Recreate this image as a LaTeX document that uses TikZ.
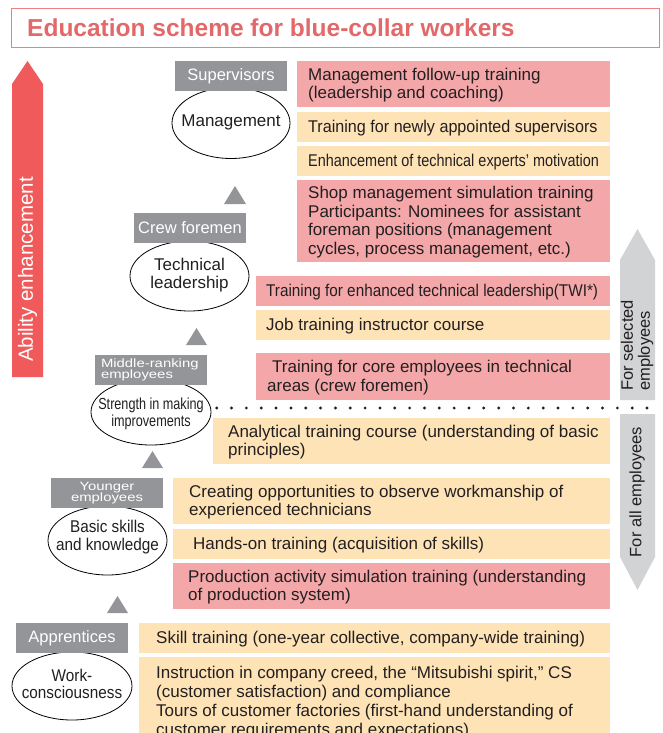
\documentclass[tikz,border=0pt]{standalone}
\usepackage{fontspec}
\setmainfont{Liberation Sans}
\newfontfamily\condA[FakeStretch=0.90]{Liberation Sans}
\newfontfamily\condB[FakeStretch=0.85]{Liberation Sans}
\newfontfamily\condC[FakeStretch=0.79]{Liberation Sans}
\newfontfamily\condD[FakeStretch=0.95]{Liberation Sans}
\newfontfamily\wideF[FakeStretch=1.24]{Liberation Sans}
\usetikzlibrary{shapes.geometric}
\definecolor{pinkfill}{HTML}{F4A7A9}
\definecolor{peachfill}{HTML}{FEE3B6}
\definecolor{labelgray}{HTML}{939598}
\definecolor{arrowgray}{HTML}{D1D3D4}
\definecolor{arrowred}{HTML}{F05A5B}
\definecolor{titlered}{HTML}{E2686A}
\definecolor{titleborder}{HTML}{EC7F81}
\definecolor{darktext}{HTML}{231F20}
\begin{document}
\begin{tikzpicture}[x=1pt,y=-1pt,
  trbox/.style={anchor=north west, inner sep=0pt, draw=none},
  pinkbox/.style={trbox, fill=pinkfill},
  peachbox/.style={trbox, fill=peachfill},
  txt/.style={anchor=west, inner sep=0pt, align=left, text=darktext, yshift=-1pt, font=\fontsize{17}{18.5}\selectfont},
  graylab/.style={fill=labelgray, text=white, minimum width=112pt, minimum height=30pt, inner sep=0pt, font=\fontsize{16.5}{18}\selectfont},
  smalllab/.style={font=\wideF\fontsize{12}{11.7}\selectfont},
  ell/.style={ellipse, draw=black, line width=0.8pt, fill=white, inner sep=0pt},
  elltxt/.style={inner sep=0pt, align=center, text=darktext, font=\fontsize{17}{18.5}\selectfont},
  tri/.style={fill=labelgray},
  sidetxt/.style={rotate=90, inner sep=0pt, align=left, text=darktext, font=\fontsize{16.5}{17}\selectfont},
  dotline/.style={draw=darktext, line width=3.2pt, line cap=round, dash pattern=on 0pt off 14.84pt}
]
\useasboundingbox (0,0) rectangle (662,733);
\clip (0,0) rectangle (662,733);

% title
\node[trbox, draw=titleborder, line width=1.1pt, minimum width=648pt, minimum height=39pt] (titlebox) at (11,8) {};
\node[anchor=west, inner sep=0pt, text=titlered, font=\bfseries\fontsize{24.5}{26}\selectfont] (title) at ([xshift=16pt]titlebox.west) {Education scheme for blue-collar workers};

% big arrows
\fill[arrowred] (12,377) -- (12,84) -- (27.5,61) -- (43,84) -- (43,377) -- cycle;
\node[rotate=90, inner sep=0pt, text=white, font=\fontsize{20.5}{22}\selectfont] (ability) at (27.5,269.5) {Ability enhancement};

\fill[arrowgray] (620,400) -- (620,260) -- (637.5,229) -- (655,260) -- (655,400) -- cycle;
\fill[arrowgray] (620,414) -- (655,414) -- (655,557) -- (637.5,590) -- (620,557) -- cycle;
\node[sidetxt, anchor=west] (selected) at (637,391) {For selected\\employees};
\node[sidetxt] (allemp) at (637,492) {For all employees};

% training boxes
\node[pinkbox, minimum width=313pt, minimum height=46pt] (b1) at (297,61) {};
\node[txt] (t1) at ([xshift=11pt]b1.west) {Management follow-up training\\(leadership and coaching)};
\node[peachbox, minimum width=313pt, minimum height=30pt] (b2) at (297,112) {};
\node[txt, font=\condD\fontsize{17}{18.5}\selectfont] (t2) at ([xshift=11pt]b2.west) {Training for newly appointed supervisors};
\node[peachbox, minimum width=313pt, minimum height=30pt] (b3) at (297,146) {};
\node[txt, font=\condB\fontsize{17}{18.5}\selectfont] (t3) at ([xshift=11pt]b3.west) {Enhancement of technical experts’ motivation};
\node[pinkbox, minimum width=313pt, minimum height=82pt] (b4) at (297,180) {};
\node[txt] (t4) at ([xshift=11pt]b4.west) {Shop management simulation training\\Participants: Nominees for assistant\\foreman positions (management\\cycles, process management, etc.)};

\node[pinkbox, minimum width=354pt, minimum height=30pt] (b5) at (256,276) {};
\node[txt, font=\condA\fontsize{17}{18.5}\selectfont] (t5) at ([xshift=10pt]b5.west) {Training for enhanced technical leadership(TWI*)};
\node[peachbox, minimum width=354pt, minimum height=30pt] (b6) at (256,310) {};
\node[txt] (t6) at ([xshift=10pt]b6.west) {Job training instructor course};
\node[pinkbox, minimum width=354pt, minimum height=47pt] (b7) at (256,353) {};
\node[txt] (t7) at ([xshift=11pt]b7.west) {\hspace*{5pt}Training for core employees in technical\\areas (crew foremen)};

\node[peachbox, minimum width=397pt, minimum height=46pt] (b8) at (213,418) {};
\node[txt] (t8) at ([xshift=15pt]b8.west) {Analytical training course (understanding of basic\\principles)};
\node[peachbox, minimum width=437pt, minimum height=46pt] (b9) at (173,478) {};
\node[txt] (t9) at ([xshift=16pt]b9.west) {Creating opportunities to observe workmanship of\\experienced technicians};
\node[peachbox, minimum width=437pt, minimum height=30pt] (b10) at (173,529) {};
\node[txt] (t10) at ([xshift=20pt]b10.west) {Hands-on training (acquisition of skills)};
\node[pinkbox, minimum width=437pt, minimum height=46pt] (b11) at (173,563) {};
\node[txt] (t11) at ([xshift=15pt]b11.west) {Production activity simulation training (understanding\\of production system)};
\node[peachbox, minimum width=471pt, minimum height=30pt] (b12) at (139,623) {};
\node[txt] (t12) at ([xshift=17pt]b12.west) {Skill training (one-year collective, company-wide training)};
\node[peachbox, minimum width=471pt, minimum height=90pt] (b13) at (139,657) {};
\node[txt, anchor=north west, font=\fontsize{17}{19}\selectfont] (t13) at ([xshift=17pt,yshift=-8pt]b13.north west) {Instruction in company creed, the “Mitsubishi spirit,” CS\\(customer satisfaction) and compliance\\Tours of customer factories (first-hand understanding of\\customer requirements and expectations)};

% dotted separator
\coordinate (dotstart) at (216.7,408);
\coordinate (dotend) at (648,408);
\draw[dotline] (dotstart) -- (dotend);

% ellipses
\node[ell, minimum width=118pt, minimum height=71pt] (mgmt) at (231,123) {};
\node[elltxt] (mgmtT) at (231,122) {Management};
\node[ell, minimum width=119pt, minimum height=70pt] (tech) at (189.5,276) {};
\node[elltxt] (techT) at (189.5,275) {Technical\\leadership};
\node[ell, minimum width=120pt, minimum height=66pt] (strength) at (151,412) {};
\node[elltxt, font=\condC\fontsize{16}{17}\selectfont] (strengthT) at (151,414) {Strength in making\\improvements};
\node[ell, minimum width=119pt, minimum height=69pt] (basic) at (107.5,540.5) {};
\node[elltxt, font=\condA\fontsize{17}{17.7}\selectfont] (basicT) at (107.5,537) {Basic skills\\and knowledge};
\node[ell, minimum width=120pt, minimum height=68pt] (work) at (72,686) {};
\node[elltxt, font=\condA\fontsize{17}{16.7}\selectfont] (workT) at (72,684) {Work-\\consciousness};

% gray labels
\node[graylab] (sup) at (231,76) {Supervisors};
\node[graylab] (crew) at (190,228) {Crew foremen};
\node[graylab, smalllab, align=left, text width=100pt, inner xsep=6pt] (middle) at (151,370) {Middle-ranking\\employees};
\node[graylab, smalllab, align=center] (younger) at (107,493) {Younger\\employees};
\node[graylab] (appr) at (72,638) {Apprentices};

% up triangles
\fill[tri] (224,204) -- (235,186) -- (246,204) -- cycle;
\fill[tri] (186,345) -- (196.5,328) -- (207,345) -- cycle;
\fill[tri] (142,468) -- (152.5,451) -- (163,468) -- cycle;
\fill[tri] (107,613) -- (117.5,596) -- (128,613) -- cycle;
\end{tikzpicture}
\end{document}
